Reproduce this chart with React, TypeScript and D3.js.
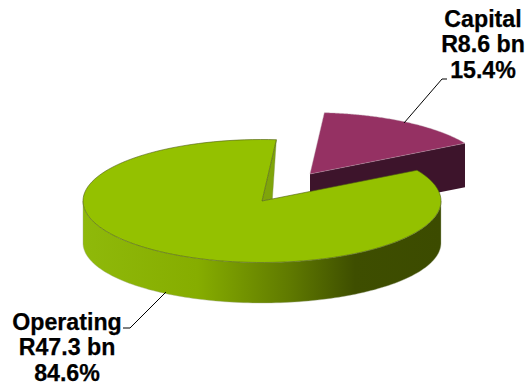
import React from "react";
import * as d3 from "d3";

// Budget split, R billion
const categories = ["Capital", "Operating"];
const amounts = [8.6, 47.3];
const amountLabels = ["R8.6 bn", "R47.3 bn"];
const shareLabels = ["15.4%", "84.6%"];

const WIDTH = 530;
const HEIGHT = 391;
const center = { x: 262, y: 201 };
const radiusX = 179;
const radiusY = 61.5;
const depth = 42;
const explode = { x: 48, y: -27 };
const startAngle = (4.6 * Math.PI) / 180;

const slices = d3
  .pie<number>()
  .sort(null)
  .startAngle(startAngle)
  .endAngle(startAngle + 2 * Math.PI)(amounts);

// Maps a pie angle (clockwise from the top) on to the tilted ellipse.
const project = (angle: number, dx = 0, dy = 0, ry = radiusY): [number, number] => [
  center.x + dx + radiusX * Math.sin(angle),
  center.y + dy - ry * Math.cos(angle),
];

const line = d3.line();

const rimPoints = (a0: number, a1: number, dx = 0, dy = 0, ry = radiusY) =>
  d3.range(0, 121).map((i) => project(a0 + ((a1 - a0) * i) / 120, dx, dy, ry));

const closed = (points: [number, number][]) => (line(points) ?? "") + "Z";

const capital = slices[0];
const operating = slices[1];

const capitalTop = closed([
  [center.x + explode.x, center.y + explode.y],
  ...rimPoints(capital.startAngle, capital.endAngle, explode.x, explode.y),
]);
const capitalEnd = project(capital.endAngle, explode.x, explode.y);
const capitalWall = closed([
  [center.x + explode.x, center.y + explode.y],
  capitalEnd,
  [capitalEnd[0], capitalEnd[1] + depth + 2],
  [center.x + explode.x, center.y + explode.y + depth + 2],
]);

const operatingTop = closed([
  [center.x, center.y],
  ...rimPoints(operating.startAngle, operating.endAngle),
]);
const operatingSide = closed([
  ...rimPoints(Math.PI / 2, (3 * Math.PI) / 2),
  ...rimPoints((3 * Math.PI) / 2, Math.PI / 2, 0, depth, radiusY - 1.5),
]);
const notchEdge = project(operating.endAngle);
const notchWall = closed([
  [center.x, center.y],
  notchEdge,
  [notchEdge[0] - 4, center.y - 2],
]);

const sideStops: [string, string][] = [
  ["0%", "#8fb90a"],
  ["32%", "#86ad00"],
  ["58%", "#5f7900"],
  ["76%", "#3e4e00"],
  ["100%", "#3c4b00"],
];

const leaders: [number, number][][] = [
  [[404, 123], [442, 79], [447, 79]],
  [[166, 292], [130, 328], [123, 328]],
];

const labelAnchors = [
  { x: 483, y: 27 },
  { x: 67, y: 330 },
];
const LINE_STEP = 25.3;

export default function App() {
  return (
    <svg
      width={WIDTH}
      height={HEIGHT}
      viewBox={`0 0 ${WIDTH} ${HEIGHT}`}
      style={{ position: "absolute", left: 0, top: 0, background: "#fff" }}
    >
      <defs>
        <linearGradient
          id="operatingSide"
          gradientUnits="userSpaceOnUse"
          x1={center.x - radiusX}
          x2={center.x + radiusX}
          y1={0}
          y2={0}
        >
          {sideStops.map(([offset, color]) => (
            <stop key={offset} offset={offset} stopColor={color} />
          ))}
        </linearGradient>
      </defs>

      <path d={capitalWall} fill="#3d142b" />
      <path d={capitalTop} fill="#953163" stroke="#b9a0ac" strokeWidth={0.4} />

      <path d={operatingSide} fill="url(#operatingSide)" stroke="#a4ac90" strokeWidth={0.4} />
      <path d={notchWall} fill="#7fa50a" stroke="#7d8f4a" strokeWidth={0.4} />
      <path d={operatingTop} fill="#94c100" stroke="#4d5c10" strokeWidth={0.6} />

      {leaders.map((points, i) => (
        <path key={categories[i]} d={line(points) ?? ""} fill="none" stroke="#000" strokeWidth={1} />
      ))}

      {categories.map((name, i) => (
        <text
          key={name}
          textAnchor="middle"
          fontFamily="'Liberation Sans', Arial, sans-serif"
          fontWeight={700}
          fontSize={23.2}
          fill="#000"
          stroke="#000"
          strokeWidth={0.25}
        >
          {[name, amountLabels[i], shareLabels[i]].map((row, r) => (
            <tspan key={row} x={labelAnchors[i].x} y={labelAnchors[i].y + r * LINE_STEP}>
              {row}
            </tspan>
          ))}
        </text>
      ))}
    </svg>
  );
}
